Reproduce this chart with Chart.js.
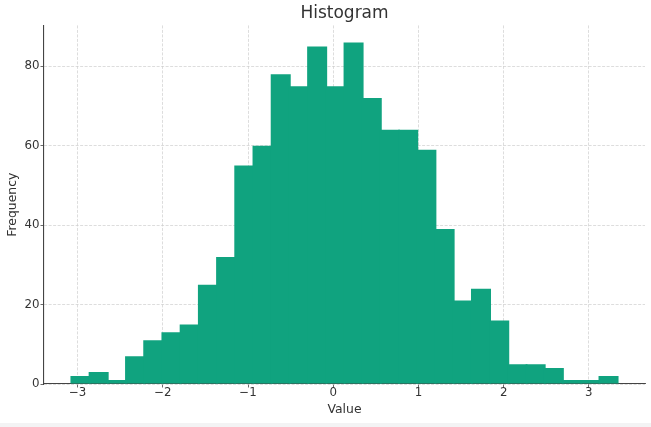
<!DOCTYPE html>
<html lang="en">
<head>
    <meta charset="UTF-8">
    <title>Histogram</title>
    <script src="https://cdn.jsdelivr.net/npm/chart.js"></script>
    <style>
        body {
            margin: 0;
            background-color: #f3f3f4;
        }
        .wrap {
            width: 651px;
            height: 423px;
            background-color: #fff;
        }
    </style>
</head>
<body>
    <div class="wrap">
        <canvas id="histChart" width="651" height="423"></canvas>
    </div>
    <script>
        // bin edges (31) and counts per bin (30)
        const binEdges = [-3.074, -2.860, -2.647, -2.433, -2.219, -2.006, -1.792, -1.578, -1.364, -1.151,
                          -0.937, -0.723, -0.510, -0.296, -0.082, 0.132, 0.345, 0.559, 0.773, 0.986,
                          1.200, 1.414, 1.627, 1.841, 2.055, 2.269, 2.482, 2.696, 2.910, 3.124, 3.338];
        const counts = [2, 3, 1, 7, 11, 13, 15, 25, 32, 55,
                        60, 78, 75, 85, 75, 86, 72, 64, 64, 59,
                        39, 21, 24, 16, 5, 5, 4, 1, 1, 2];
        const xTicks = [-3, -2, -1, 0, 1, 2, 3];
        const yTicks = [0, 20, 40, 60, 80];

        const barData = counts.map((c, i) => ({ x: (binEdges[i] + binEdges[i + 1]) / 2, y: c }));

        const minus = v => (v < 0 ? '\u2212' + Math.abs(v) : String(v));
        const textColor = '#333';
        const gridColor = 'rgba(205, 205, 205, 0.85)';

        new Chart(document.getElementById('histChart'), {
            type: 'bar',
            data: {
                datasets: [{
                    data: barData,
                    backgroundColor: '#10a37f',
                    borderWidth: 0,
                    barPercentage: 1.1, // a little overlap so no seams between bins
                    categoryPercentage: 1.0
                }]
            },
            options: {
                responsive: false,
                animation: false,
                layout: { padding: { left: 0, right: 6, top: 0, bottom: 0 } },
                plugins: {
                    legend: { display: false },
                    tooltip: { enabled: false },
                    title: {
                        display: true,
                        text: 'Histogram',
                        fullSize: false,
                        color: textColor,
                        font: { family: 'DejaVu Sans', size: 17, weight: 'normal', lineHeight: 1.2 },
                        padding: { top: 3, bottom: 2 }
                    }
                },
                scales: {
                    x: {
                        type: 'linear',
                        min: -3.395,
                        max: 3.659,
                        offset: false,
                        z: 1,
                        afterFit: s => { s.height = 39; },
                        afterBuildTicks: s => { s.ticks = xTicks.map(v => ({ value: v })); },
                        grid: {
                            offset: false,
                            color: gridColor,
                            lineWidth: 0.8,
                            tickColor: '#444',
                            tickLength: 3.5
                        },
                        border: { color: '#444', width: 1.1, dash: [3, 1.5] },
                        ticks: {
                            color: textColor,
                            padding: 0,
                            maxRotation: 0,
                            font: { family: 'DejaVu Sans', size: 11.8, lineHeight: 1 },
                            callback: minus
                        },
                        title: {
                            display: true,
                            text: 'Value',
                            color: textColor,
                            font: { family: 'DejaVu Sans', size: 12.4, lineHeight: 1.2 },
                            padding: { top: 0, bottom: 6 }
                        }
                    },
                    y: {
                        min: 0,
                        max: 90.3,
                        z: 1,
                        afterFit: s => { s.width = 44; },
                        afterBuildTicks: s => { s.ticks = yTicks.map(v => ({ value: v })); },
                        grid: {
                            color: gridColor,
                            lineWidth: 0.8,
                            tickColor: '#444',
                            tickLength: 3.5
                        },
                        border: { color: '#444', width: 1.1, dash: [3, 1.5] },
                        ticks: {
                            color: textColor,
                            padding: 1,
                            font: { family: 'DejaVu Sans', size: 11.8, lineHeight: 1 }
                        },
                        title: {
                            display: true,
                            text: 'Frequency',
                            color: textColor,
                            font: { family: 'DejaVu Sans', size: 12.4, lineHeight: 1.2 },
                            padding: { top: 5, bottom: 0 }
                        }
                    }
                }
            }
        });
    </script>
</body>
</html>
